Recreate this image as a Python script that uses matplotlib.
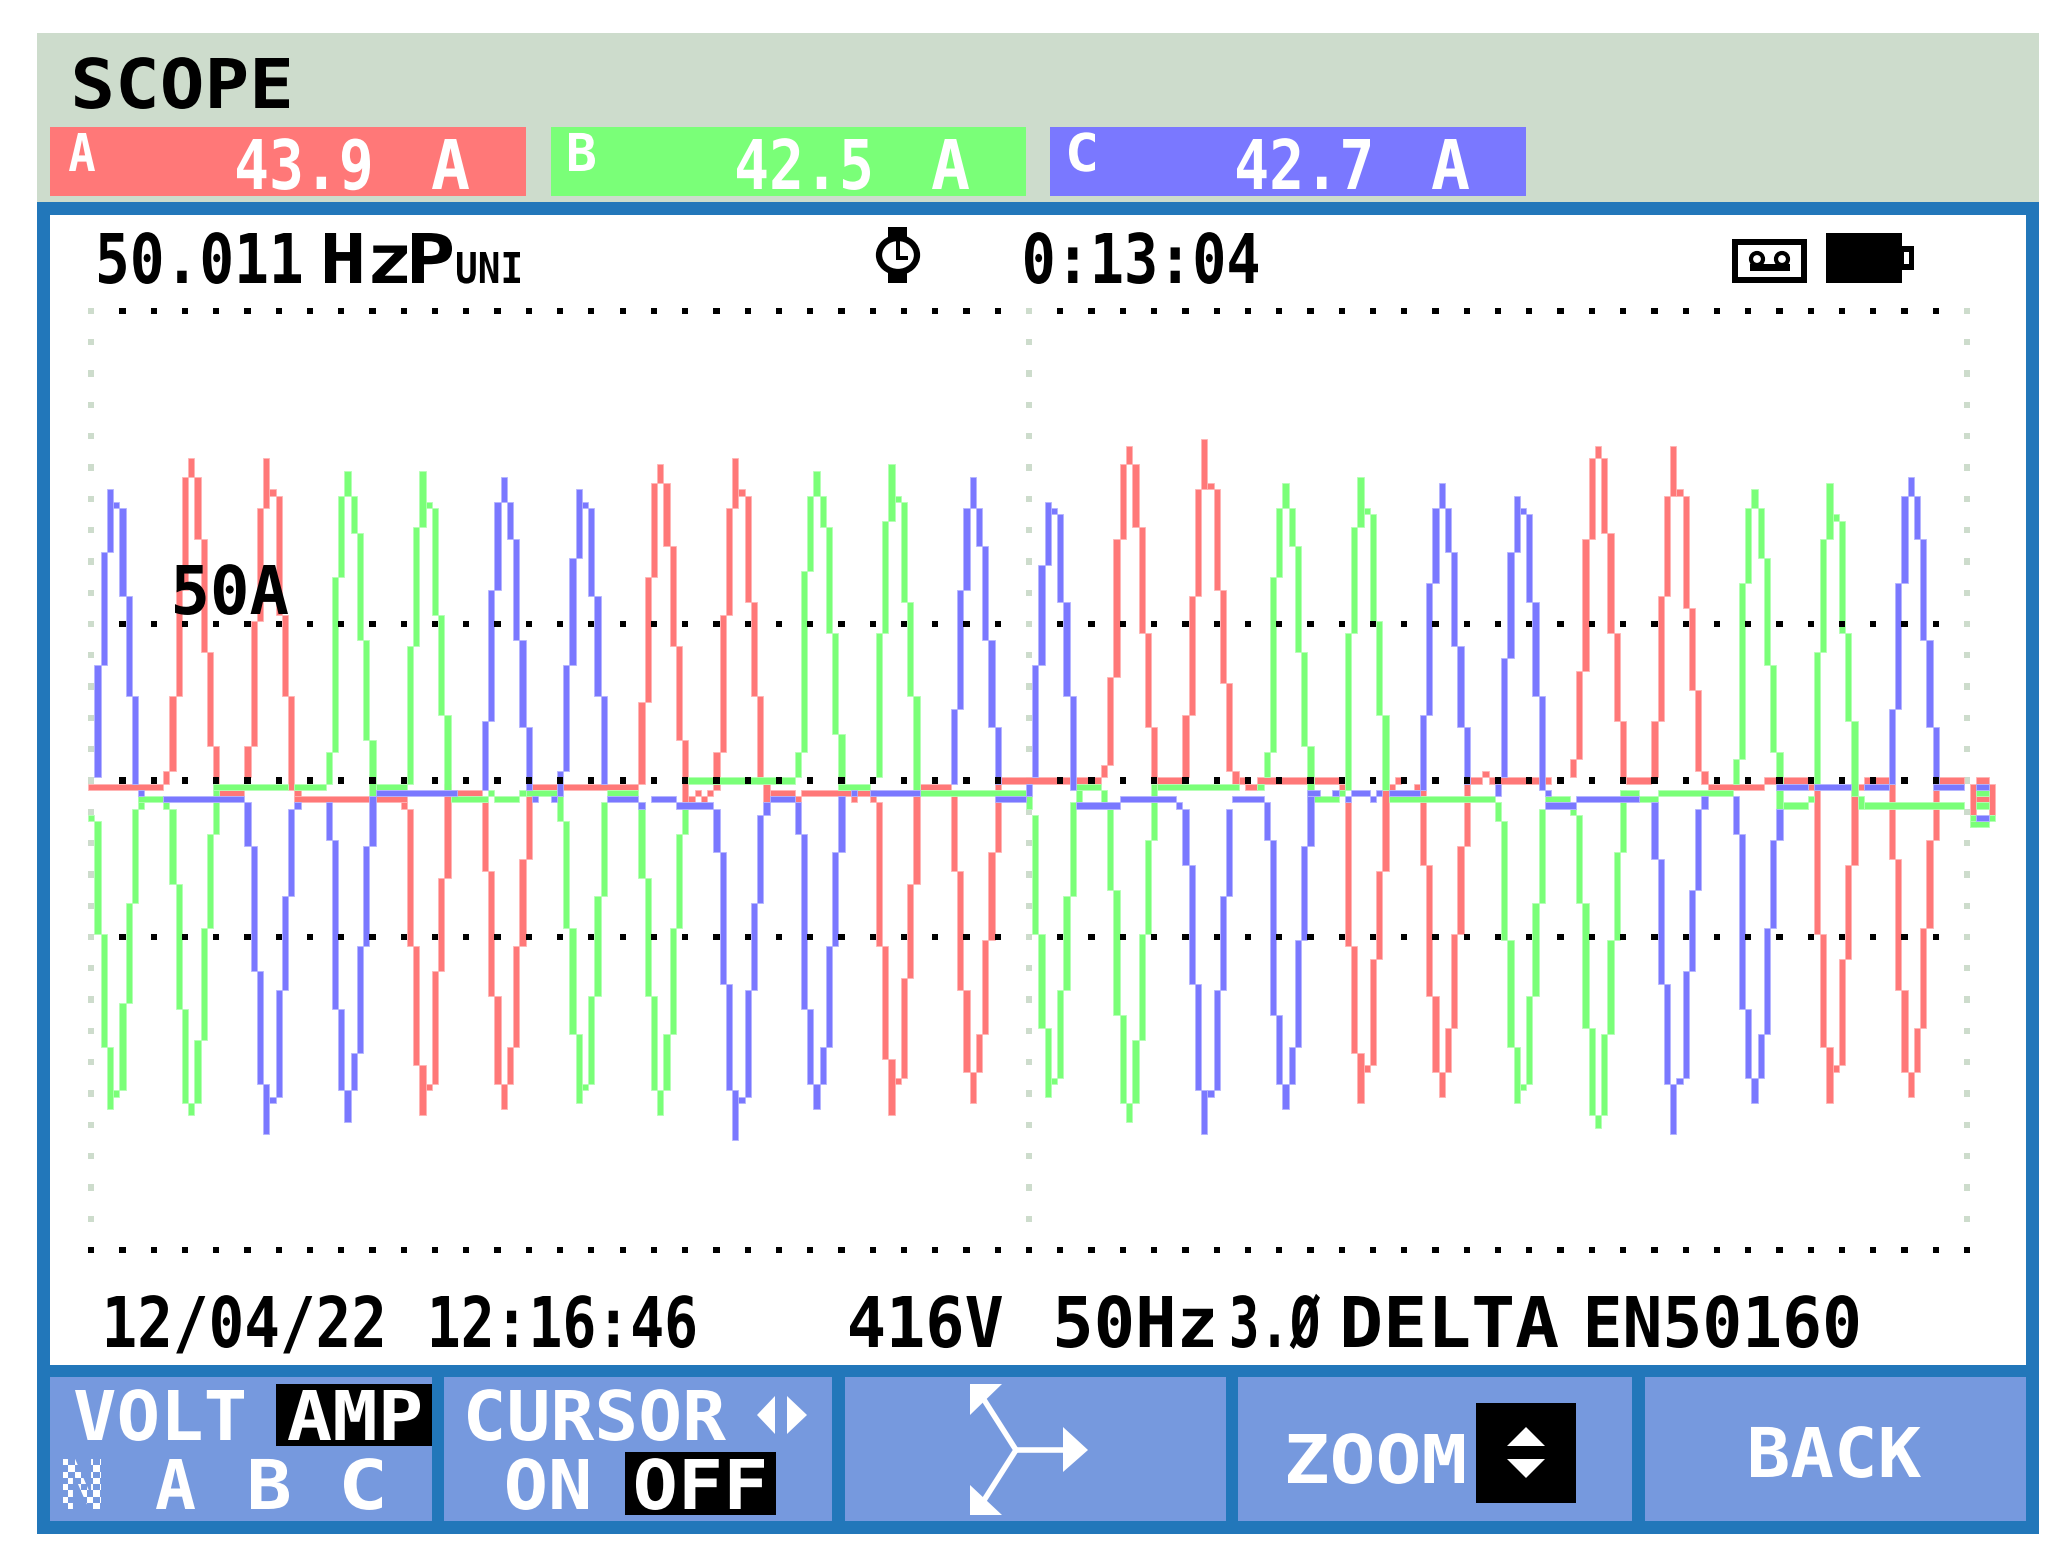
import matplotlib
matplotlib.use('Agg')
import matplotlib.pyplot as plt
import matplotlib.patheffects as pe
from matplotlib.font_manager import FontProperties
from matplotlib.patches import Rectangle, Polygon, Ellipse
from matplotlib.textpath import TextPath
from matplotlib.transforms import Affine2D

W, H = 2068, 1564
RED, GREEN, BLUE = '#ff7878', '#7aff78', '#7a78ff'
RED_EDGE, GREEN_EDGE, BLUE_EDGE = '#ffb4b4', '#b4ffb4', '#b4b4ff'
FRAME, PANEL, BUTTON, PALE = '#2277ba', '#cddccc', '#7699de', '#cddccc'

# current per display column, (column, top, bottom) in amps
a_cols = [
    (12, 3, -1), (13, 27, 3), (14, 61, 27), (15, 97, 61), (16, 103, 97), (17, 97, 77), (18, 77, 41), (19, 41, 11), (20, 11, -3),
    (25, 11, 1), (26, 51, 11), (27, 87, 51), (28, 103, 87), (29, 93, 91), (30, 91, 53), (31, 53, 27), (32, 27, -3), (33, -3, -7),
    (50, -7, -9), (51, -9, -53), (52, -53, -91), (53, -91, -107), (54, -97, -99), (55, -61, -97), (56, -31, -61), (57, -1, -31),
    (63, -7, -29), (64, -29, -69), (65, -69, -97), (66, -97, -105), (67, -85, -97), (68, -53, -85), (69, -25, -53), (70, -3, -25),
    (88, 25, -1), (89, 65, 25), (90, 95, 65), (91, 101, 95), (92, 95, 75), (93, 75, 43), (94, 43, 13), (95, 13, -7),
    (96, -5, -7), (97, -3, -5), (98, -5, -7), (99, -3, -5),
    (100, 9, -3), (101, 53, 9), (102, 87, 53), (103, 103, 87), (104, 93, 91), (105, 91, 57), (106, 57, 27), (107, 27, -1), (108, -1, -7),
    (122, -5, -7), (125, -5, -7),
    (126, -7, -53), (127, -53, -89), (128, -89, -107), (129, -95, -97), (130, -63, -95), (131, -33, -63), (132, -5, -33),
    (138, -5, -29), (139, -29, -67), (140, -67, -93), (141, -93, -103), (142, -81, -93), (143, -51, -81), (144, -23, -51), (145, -1, -23),
    (162, 5, 1), (163, 33, 5), (164, 77, 33), (165, 101, 77), (166, 107, 101), (167, 101, 81), (168, 81, 47), (169, 47, 17), (170, 17, 1),
    (175, 21, 1), (176, 59, 21), (177, 93, 59), (178, 109, 93), (179, 95, 93), (180, 93, 61), (181, 61, 31), (182, 31, 3), (183, 3, -1),
    (200, -1, -3), (201, -7, -53), (202, -53, -87), (203, -87, -103), (204, -91, -93), (205, -57, -91), (206, -29, -57), (207, -3, -29),
    (213, -3, -27), (214, -27, -69), (215, -69, -93), (216, -93, -101), (217, -79, -93), (218, -49, -79), (219, -21, -49), (220, -1, -21),
    (223, 3, 1),
    (237, 7, 1), (238, 35, 7), (239, 77, 35), (240, 103, 77), (241, 107, 103), (242, 103, 79), (243, 79, 47), (244, 47, 19), (245, 19, 1),
    (250, 19, 1), (251, 59, 19), (252, 91, 59), (253, 107, 91), (254, 93, 91), (255, 91, 55), (256, 55, 29), (257, 29, 3), (258, 3, -1),
    (276, -3, -49), (277, -49, -85), (278, -85, -103), (279, -91, -93), (280, -57, -91), (281, -27, -57), (282, -1, -27),
    (288, -1, -25), (289, -25, -67), (290, -67, -93), (291, -93, -101), (292, -79, -93), (293, -47, -79), (294, -19, -47), (295, -3, -19),
    (301, -1, -11), (304, -1, -11),
]
b_cols = [
    (0, -11, -13), (1, -13, -49), (2, -49, -85), (3, -85, -105), (4, -99, -101), (5, -71, -99), (6, -39, -71), (7, -9, -39), (8, -5, -9),
    (12, -7, -9), (13, -9, -33), (14, -33, -73), (15, -73, -103), (16, -103, -107), (17, -83, -103), (18, -47, -83), (19, -17, -47), (20, -1, -17),
    (38, 9, -1), (39, 65, 9), (40, 91, 65), (41, 99, 91), (42, 91, 79), (43, 79, 45), (44, 45, 13), (45, 13, -5),
    (51, 43, -1), (52, 81, 43), (53, 99, 81), (54, 89, 87), (55, 87, 53), (56, 53, 21), (57, 21, -3),
    (64, -3, -5), (69, -3, -5),
    (75, -5, -13), (76, -13, -47), (77, -47, -81), (78, -81, -103), (79, -97, -99), (80, -69, -97), (81, -37, -69), (82, -7, -37),
    (88, -7, -31), (89, -31, -69), (90, -69, -99), (91, -99, -107), (92, -81, -99), (93, -47, -81), (94, -17, -47), (95, -9, -17),
    (113, 9, 1), (114, 67, 9), (115, 91, 67), (116, 99, 91), (117, 91, 81), (118, 81, 47), (119, 47, 15), (120, 15, -3),
    (126, 47, 1), (127, 83, 47), (128, 101, 83), (129, 91, 89), (130, 89, 57), (131, 57, 27), (132, 27, -3),
    (150, -5, -9), (151, -11, -49), (152, -49, -79), (153, -79, -101), (154, -95, -97), (155, -67, -95), (156, -37, -67), (157, -7, -37),
    (158, -3, -7), (162, -3, -7),
    (163, -9, -35), (164, -35, -75), (165, -75, -103), (166, -103, -109), (167, -83, -103), (168, -49, -83), (169, -19, -49), (170, -1, -19),
    (188, 9, 1), (189, 65, 9), (190, 87, 65), (191, 95, 87), (192, 87, 75), (193, 75, 41), (194, 41, 11), (195, 11, -5),
    (200, -3, -5), (201, 47, -3), (202, 81, 47), (203, 97, 81), (204, 87, 85), (205, 85, 51), (206, 51, 21), (207, 21, -3),
    (225, -7, -13), (226, -13, -51), (227, -51, -85), (228, -85, -103), (229, -97, -99), (230, -69, -97), (231, -39, -69), (232, -9, -39),
    (237, -9, -11), (238, -11, -39), (239, -39, -79), (240, -79, -107), (241, -107, -111), (242, -81, -107), (243, -51, -81), (244, -23, -51), (245, -3, -23),
    (263, 7, -1), (264, 63, 7), (265, 87, 63), (266, 93, 87), (267, 87, 71), (268, 71, 37), (269, 37, 9), (270, 9, -9),
    (275, -5, -7), (276, 41, -3), (277, 77, 41), (278, 95, 77), (279, 85, 83), (280, 83, 47), (281, 47, 19), (282, 19, -5), (283, -5, -9),
    (301, -11, -15), (304, -11, -13),
]
c_cols = [
    (1, 37, 1), (2, 73, 37), (3, 93, 73), (4, 89, 87), (5, 87, 59), (6, 59, 27), (7, 27, -1), (8, -3, -5),
    (25, -7, -21), (26, -21, -61), (27, -61, -97), (28, -97, -113), (29, -101, -103), (30, -67, -101), (31, -37, -67), (32, -9, -37), (33, -7, -9),
    (38, -7, -19), (39, -19, -73), (40, -73, -99), (41, -99, -109), (42, -87, -99), (43, -53, -87), (44, -21, -53), (45, -5, -21),
    (63, 19, -3), (64, 61, 19), (65, 89, 61), (66, 97, 89), (67, 89, 77), (68, 77, 45), (69, 45, 17), (70, 17, -3),
    (71, -5, -7), (74, -5, -7),
    (75, 3, -5), (76, 37, 3), (77, 71, 37), (78, 93, 71), (79, 89, 87), (80, 87, 59), (81, 59, 27), (82, 27, -1),
    (88, -7, -9),
    (100, -9, -23), (101, -23, -65), (102, -65, -99), (103, -99, -115), (104, -101, -103), (105, -67, -101), (106, -39, -67), (107, -11, -39), (108, -7, -11),
    (113, -7, -17), (114, -17, -73), (115, -73, -97), (116, -97, -105), (117, -85, -97), (118, -53, -85), (119, -23, -53), (120, -5, -23),
    (138, 23, -1), (139, 61, 23), (140, 87, 61), (141, 97, 87), (142, 87, 75), (143, 75, 45), (144, 45, 17), (145, 17, -1),
    (150, -1, -5), (151, 37, 1), (152, 69, 37), (153, 89, 69), (154, 87, 85), (155, 85, 57), (156, 57, 27), (157, 27, -3),
    (174, -7, -9),
    (175, -9, -27), (176, -27, -65), (177, -65, -99), (178, -99, -113), (179, -99, -101), (180, -67, -99), (181, -37, -67), (182, -9, -37),
    (188, -7, -19), (189, -19, -75), (190, -75, -97), (191, -97, -105), (192, -85, -97), (193, -51, -85), (194, -21, -51), (195, -5, -21),
    (213, 21, -3), (214, 63, 21), (215, 87, 63), (216, 95, 87), (217, 87, 73), (218, 73, 43), (219, 43, 17), (220, 17, -1),
    (225, -1, -5), (226, 39, 1), (227, 73, 39), (228, 91, 73), (229, 87, 85), (230, 85, 57), (231, 57, 27), (232, 27, -3), (233, -3, -5),
    (250, -7, -25), (251, -25, -65), (252, -65, -97), (253, -97, -113), (254, -95, -97), (255, -61, -95), (256, -35, -61), (257, -9, -35), (258, -5, -9),
    (263, -5, -17), (264, -17, -73), (265, -73, -95), (266, -95, -103), (267, -81, -95), (268, -47, -81), (269, -19, -47), (270, -9, -19),
    (288, 23, -1), (289, 63, 23), (290, 91, 63), (291, 97, 91), (292, 91, 77), (293, 77, 45), (294, 45, 17), (295, 17, -1),
]

# flat stretches, (first column, last column, level) in amps
a_flat = [(0, 11, -2), (20, 24, -4), (33, 50, -6), (58, 62, -4), (71, 87, -2), (109, 112, -4), (113, 113, -6), (114, 125, -4),
          (133, 137, -2), (146, 161, 0), (171, 174, 0), (184, 184, 0), (185, 186, -2), (187, 199, 0), (208, 208, -2), (209, 209, 0),
          (212, 212, -2), (221, 222, 0), (224, 233, 0), (246, 249, 0), (259, 267, -2), (268, 275, 0), (275, 275, -2), (283, 283, -2),
          (284, 287, 0), (296, 299, 0), (302, 303, 0), (302, 303, -6)]
b_flat = [(8, 11, -6), (20, 31, -2), (33, 37, -2), (46, 50, -2), (58, 63, -6), (65, 68, -6), (70, 74, -4), (83, 87, -4), (96, 112, 0),
          (120, 124, -2), (133, 149, -4), (158, 161, -2), (171, 183, -2), (187, 187, -2), (195, 199, -6), (208, 224, -6),
          (233, 236, -6), (245, 247, -4), (248, 250, -6), (251, 262, -4), (271, 274, -8), (284, 299, -8),
          (302, 303, -4), (302, 303, -8), (301, 303, -14)]
c_flat = [(12, 24, -6), (46, 58, -4), (83, 87, -6), (90, 93, -6), (94, 99, -8), (109, 112, -6), (122, 122, -4), (125, 132, -4),
          (145, 149, -6), (158, 164, -8), (165, 173, -6), (183, 187, -6), (195, 196, -4), (199, 199, -4), (201, 201, -6), (202, 204, -4),
          (205, 205, -6), (206, 206, -4), (208, 212, -4), (233, 237, -8), (238, 247, -6), (270, 274, -2), (276, 281, -2), (284, 287, -2),
          (295, 299, -2), (302, 303, -2), (302, 303, -12)]

grid_cols = list(range(0, 301, 5))
grid_amps = [150, 50, 0, -50, -150]
tick_cols = [0, 150, 300]
tick_amps = list(range(-150, 151, 10))

readings = [('A', '43.9', 'A'), ('B', '42.5', 'A'), ('C', '42.7', 'A')]


class Squeeze(pe.AbstractPathEffect):
    # narrows text sideways, the LCD font is tall and thin
    def __init__(self, x0, lsb, sx):
        self.x0, self.lsb, self.sx = x0, lsb, sx

    def draw_path(self, renderer, gc, tpath, affine, rgbFace=None):
        t = affine + Affine2D().translate(-self.x0 - self.lsb, 0).scale(self.sx, 1).translate(self.x0, 0)
        renderer.draw_path(gc, tpath, t, rgbFace)


fp = FontProperties(family='DejaVu Sans Mono', weight='bold')
cap = TextPath((0, 0), 'H', size=100, prop=fp).get_extents().height

fig = plt.figure(figsize=(W / 100, H / 100), dpi=100, facecolor='white')
ax = fig.add_axes([0, 0, 1, 1])
ax.set_xlim(0, W)
ax.set_ylim(H, 0)
ax.axis('off')


def box(x0, x1, y0, y1, color, z=1):
    ax.add_patch(Rectangle((x0, y0), x1 - x0, y1 - y0, facecolor=color, edgecolor='none', zorder=z))


def lcd(x0, x1, y0, y1, s, color='black', z=5, target=None):
    # fit the string into the box it has on the screen
    target = target or ax
    em = (y1 - y0) * 100 / cap
    ext = TextPath((0, 0), s, size=100, prop=fp).get_extents()
    t = target.text(x0, y1, s, color=color, fontproperties=fp, fontsize=em * 0.72, ha='left', va='baseline', zorder=z)
    t.set_path_effects([Squeeze(x0, ext.x0 * em / 100, (x1 - x0) / (ext.width * em / 100))])


# screen
box(37, 2039, 33, 202, PANEL)
box(37, 2039, 202, 1534, FRAME)
box(50, 2026, 215, 1365, 'white')

lcd(75, 289, 58, 108, 'SCOPE')
badges = [(50, 526, RED, 69, 237), (551, 1026, GREEN, 569, 737), (1050, 1526, BLUE, 1069, 1237)]
for (x0, x1, col, xl, xv), (ch, val, unit) in zip(badges, readings):
    box(x0, x1, 127, 196, col)
    lcd(xl, xl + 26, 133, 171, ch, 'white')
    lcd(xv, xv + 133, 139, 189, val, 'white')
    lcd(xv + 195, xv + 232, 139, 189, unit, 'white')

lcd(99, 301, 233, 283, '50.011')
lcd(325, 407, 233, 283, 'Hz')
lcd(412, 452, 233, 283, 'P')
lcd(457, 520, 252, 283, 'UNI')
lcd(1025, 1258, 233, 283, '0:13:04')

# stopwatch, tape and battery icons
box(888, 907, 227, 240, 'black', 4)
box(888, 907, 271, 283, 'black', 4)
ax.add_patch(Ellipse((898, 255), 38, 34, facecolor='white', edgecolor='black', linewidth=4.5, zorder=3))
box(896, 900, 240, 260, 'black', 4)
box(900, 908, 256, 260, 'black', 4)
box(1732, 1807, 239, 283, 'black')
box(1738, 1801, 245, 277, 'white', 2)
ax.add_patch(Ellipse((1757, 259), 12, 12, facecolor='white', edgecolor='black', linewidth=3, zorder=3))
ax.add_patch(Ellipse((1782, 259), 12, 12, facecolor='white', edgecolor='black', linewidth=3, zorder=3))
box(1750, 1790, 264, 271, 'black', 3)
box(1826, 1902, 233, 283, 'black')
box(1902, 1914, 246, 270, 'black')
box(1904, 1909, 252, 264, 'white', 2)

# bottom line
lcd(107, 382, 1296, 1347, '12/04/22')
lcd(432, 695, 1296, 1347, '12:16:46')
lcd(850, 1002, 1296, 1347, '416V')
lcd(1057, 1213, 1296, 1347, '50Hz')
lcd(1232, 1320, 1296, 1347, '3.Ø')
lcd(1344, 1558, 1296, 1347, 'DELTA')
lcd(1588, 1858, 1296, 1347, 'EN50160')

# buttons
for x0, x1 in [(50, 432), (444, 832), (845, 1226), (1238, 1632), (1645, 2026)]:
    box(x0, x1, 1377, 1521, BUTTON)

lcd(75, 244, 1390, 1440, 'VOLT', 'white')
box(276, 432, 1384, 1446, 'black')
lcd(288, 420, 1390, 1440, 'AMP', 'white')
lcd(63, 101, 1459, 1509, 'N', 'white')
# the N on this key is dithered on the LCD
for i in range(7):
    for j in range(9):
        if (i + j) % 2:
            box(62 + i * 6.27, 62 + (i + 1) * 6.27, 1459 + j * 6.27, 1459 + (j + 1) * 6.27, BUTTON, 6)
lcd(156, 195, 1459, 1509, 'A', 'white')
lcd(251, 289, 1459, 1509, 'B', 'white')
lcd(344, 382, 1459, 1509, 'C', 'white')
lcd(468, 726, 1390, 1440, 'CURSOR', 'white')
ax.add_patch(Polygon([(757, 1415), (775, 1396), (775, 1434)], facecolor='white', edgecolor='none', zorder=4))
ax.add_patch(Polygon([(807, 1415), (787, 1396), (787, 1434)], facecolor='white', edgecolor='none', zorder=4))
lcd(507, 588, 1459, 1509, 'ON', 'white')
box(625, 776, 1452, 1515, 'black')
lcd(636, 764, 1459, 1509, 'OFF', 'white')

# three arrow button
ax.plot([981, 1016, 981], [1395, 1450, 1505], color='white', linewidth=4, zorder=3)
ax.plot([1016, 1075], [1450, 1450], color='white', linewidth=4, zorder=3)
ax.add_patch(Polygon([(970, 1384), (1002, 1384), (970, 1415)], facecolor='white', edgecolor='none', zorder=4))
ax.add_patch(Polygon([(970, 1515), (1002, 1515), (970, 1485)], facecolor='white', edgecolor='none', zorder=4))
ax.add_patch(Polygon([(1063, 1427), (1088, 1450), (1063, 1472)], facecolor='white', edgecolor='none', zorder=4))

lcd(1288, 1464, 1434, 1483, 'ZOOM', 'white')
box(1476, 1576, 1403, 1503, 'black')
ax.add_patch(Polygon([(1526, 1427), (1507, 1446), (1545, 1446)], facecolor='white', edgecolor='none', zorder=4))
ax.add_patch(Polygon([(1526, 1478), (1507, 1459), (1545, 1459)], facecolor='white', edgecolor='none', zorder=4))
lcd(1751, 1921, 1427, 1477, 'BACK', 'white')

# waveform area, 6.253 px per column, 3.13 px per amp
wave = fig.add_axes([88 / W, 1 - 1365 / H, (2026 - 88) / W, (1365 - 215) / H])
wave.set_xlim(0, (2026 - 88) / 6.253)
wave.set_ylim(-(1365 - 780.5) / 3.13, (780.5 - 215) / 3.13)
wave.axis('off')
wave.patch.set_alpha(0)

for c in tick_cols:
    for amp in tick_amps:
        wave.bar(c, 2, width=1, bottom=amp - 1, align='edge', color=PALE, linewidth=0, zorder=1)

traces = [(a_cols, a_flat, RED, RED_EDGE, 2), (b_cols, b_flat, GREEN, GREEN_EDGE, 3), (c_cols, c_flat, BLUE, BLUE_EDGE, 4)]
for cols, flats, color, edge, z in traces:
    for col, top, bottom in cols:
        wave.bar(col, top - bottom, width=1, bottom=bottom, align='edge', color=color, edgecolor=edge, linewidth=0.6, zorder=z)
    for first, last, level in flats:
        wave.bar(first, 2, width=last - first + 1, bottom=level - 1, align='edge', color=color, edgecolor=edge, linewidth=0.6, zorder=z)

for amp in grid_amps:
    for c in grid_cols:
        if c in tick_cols and amp != -150:
            continue
        wave.bar(c, 2, width=1, bottom=amp - 1, align='edge', color='black', linewidth=0, zorder=5)

# the 50A label sits over the traces
over = fig.add_axes([0, 0, 1, 1])
over.set_xlim(0, W)
over.set_ylim(H, 0)
over.axis('off')
over.patch.set_alpha(0)
lcd(175, 288, 565, 614, '50A', target=over)

fig.savefig('out.png', dpi=100, facecolor='white')
